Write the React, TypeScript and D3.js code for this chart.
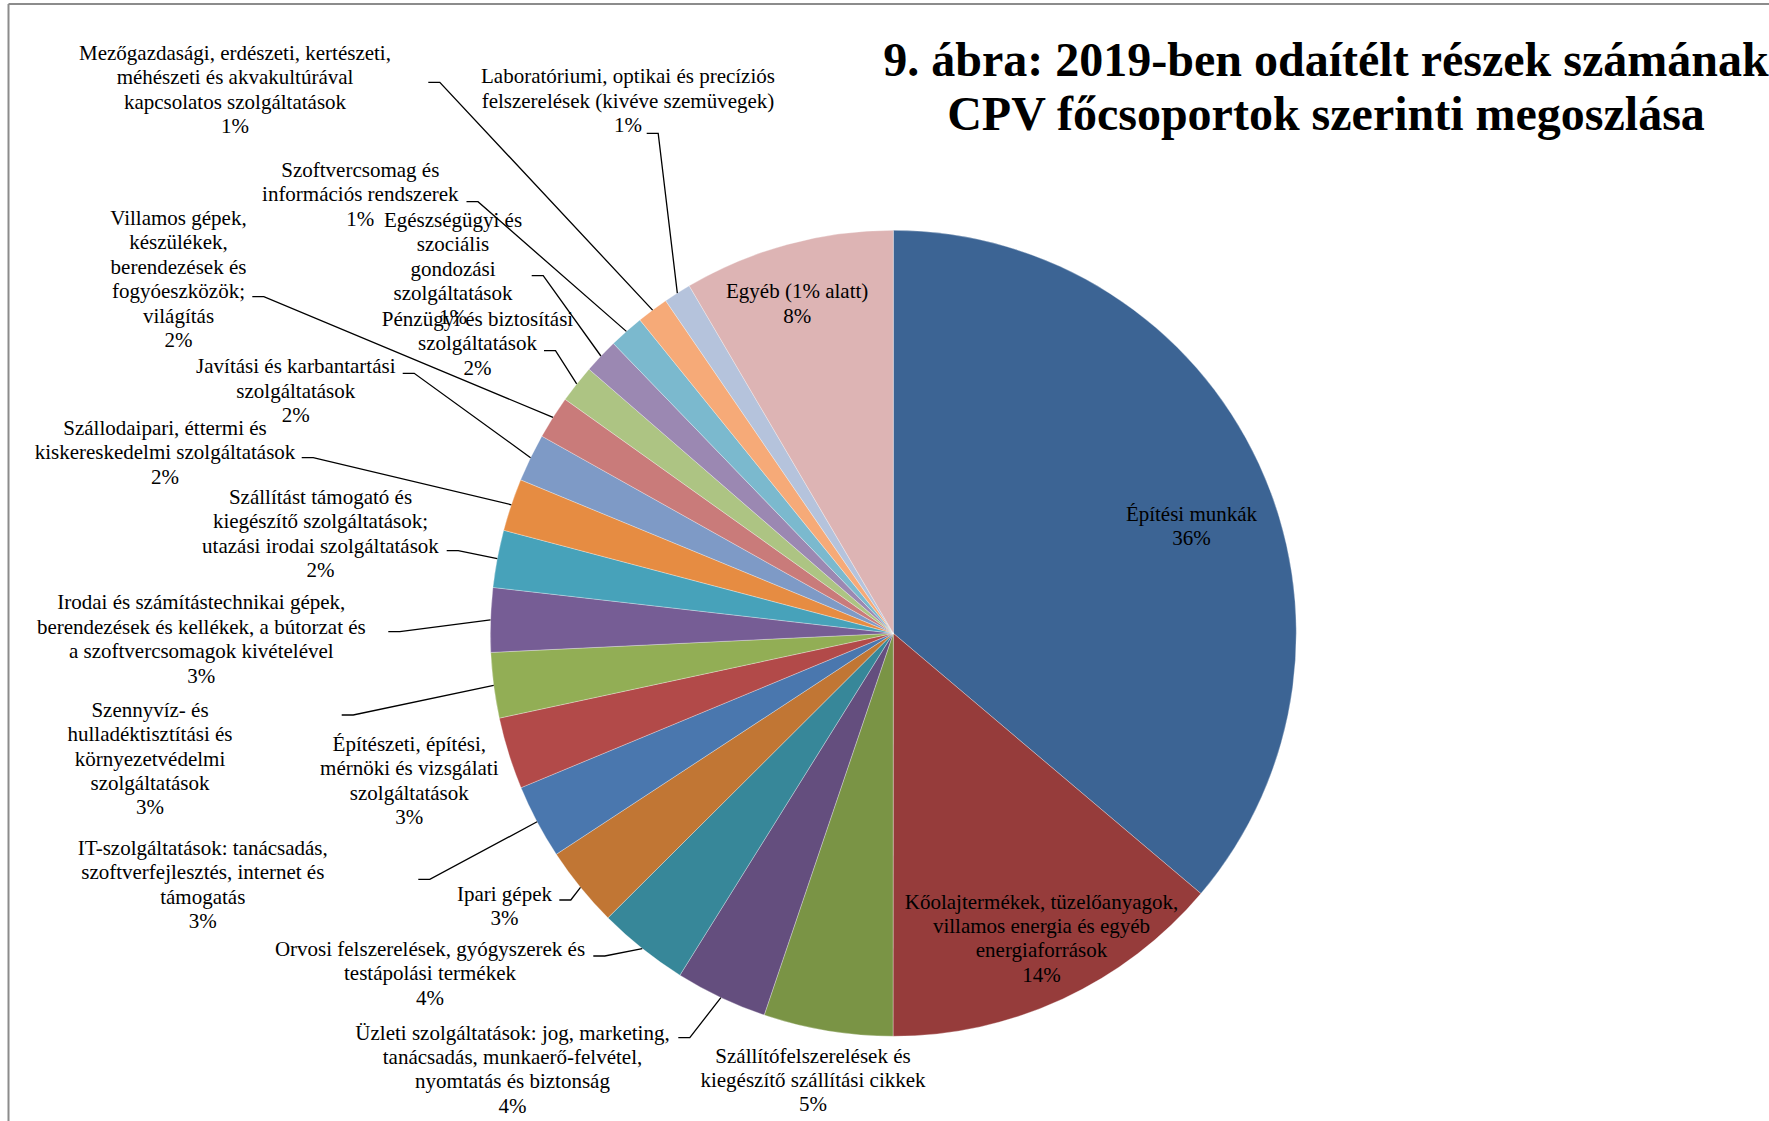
import React from "react";
import * as d3 from "d3";

// ---- data ----
const categories: string[] = [
  "Építési munkák",
  "Kőolajtermékek, tüzelőanyagok,\nvillamos energia és egyéb\nenergiaforrások",
  "Szállítófelszerelések és\nkiegészítő szállítási cikkek",
  "Üzleti szolgáltatások: jog, marketing,\ntanácsadás, munkaerő-felvétel,\nnyomtatás és biztonság",
  "Orvosi felszerelések, gyógyszerek és\ntestápolási termékek",
  "Ipari gépek",
  "IT-szolgáltatások: tanácsadás,\nszoftverfejlesztés, internet és\ntámogatás",
  "Építészeti, építési,\nmérnöki és vizsgálati\nszolgáltatások",
  "Szennyvíz- és\nhulladéktisztítási és\nkörnyezetvédelmi\nszolgáltatások",
  "Irodai és számítástechnikai gépek,\nberendezések és kellékek, a bútorzat és\na szoftvercsomagok kivételével",
  "Szállítást támogató és\nkiegészítő szolgáltatások;\nutazási irodai szolgáltatások",
  "Szállodaipari, éttermi és\nkiskereskedelmi szolgáltatások",
  "Javítási és karbantartási\nszolgáltatások",
  "Villamos gépek,\nkészülékek,\nberendezések és\nfogyóeszközök;\nvilágítás",
  "Pénzügyi és biztosítási\nszolgáltatások",
  "Egészségügyi és\nszociális\ngondozási\nszolgáltatások",
  "Szoftvercsomag és\ninformációs rendszerek",
  "Mezőgazdasági, erdészeti, kertészeti,\nméhészeti és akvakultúrával\nkapcsolatos szolgáltatások",
  "Laboratóriumi, optikai és precíziós\nfelszerelések (kivéve szemüvegek)",
  "Egyéb (1% alatt)",
];

const shares: number[] = [
  36.17, 13.83, 5.18, 3.69, 3.64, 3.24, 2.98, 2.88, 2.62, 2.57,
  2.3, 2.1, 1.92, 1.72, 1.52, 1.4, 1.4, 1.27, 1.1, 8.45,
];

const titleLines: string[] = [
  "9. ábra: 2019-ben odaítélt részek számának",
  "CPV főcsoportok szerinti megoszlása",
];

// ---- styles ----
const colors: string[] = [
  "#3c6494", "#963c3b", "#7a9445", "#644e7e", "#378799", "#c17634",
  "#4a77ae", "#b24a49", "#92ae55", "#765d95", "#47a2ba", "#e68c42",
  "#7e9ac6", "#c97b7a", "#adc483", "#9b88b2", "#7bb9ce", "#f6aa78",
  "#b5c3dc", "#ddb4b4",
];

// ---- layout of the data labels (label centre x, first baseline y, leader start) ----
type LabelPos = { x: number; y: number; lead?: [number, number] };
const labelLayout: LabelPos[] = [
  { x: 1191.5, y: 521 },
  { x: 1041.5, y: 908.5 },
  { x: 813, y: 1062.5 },
  { x: 512.5, y: 1039.5, lead: [678.3, 1037.7] },
  { x: 430, y: 956, lead: [593.3, 956] },
  { x: 504.5, y: 900.7, lead: [559.3, 900] },
  { x: 202.8, y: 855, lead: [418.3, 879.3] },
  { x: 409.3, y: 750.7 },
  { x: 150, y: 716.7, lead: [341.7, 715] },
  { x: 201.3, y: 609.3, lead: [388.3, 631.7] },
  { x: 320.5, y: 504, lead: [446.7, 550.7] },
  { x: 165, y: 435, lead: [301.7, 457.7] },
  { x: 295.8, y: 373.3, lead: [402.7, 373.3] },
  { x: 178.5, y: 225, lead: [252.3, 296.7] },
  { x: 477.5, y: 326, lead: [544, 350.7] },
  { x: 453, y: 226.7, lead: [531.7, 275.7] },
  { x: 360.3, y: 176.7, lead: [466.5, 201.7] },
  { x: 235, y: 60, lead: [428.3, 82.3] },
  { x: 628, y: 83.3, lead: [646.7, 133.3] },
  { x: 797.2, y: 298.3 },
];

const W = 1769;
const H = 1121;
const CX = 893.3;
const CY = 633.3;
const R = 403;
const FONT = "'Liberation Serif', 'Times New Roman', Times, serif";
const LABEL_SIZE = 21;
const LINE_H = 24.4;

export default function App() {
  const total = d3.sum(shares);
  const pie = d3
    .pie<number>()
    .sort(null)
    .value((d) => d)
    .startAngle(0)
    .endAngle(2 * Math.PI);
  const arcs = pie(shares);
  const arc = d3.arc<d3.PieArcDatum<number>>().innerRadius(0).outerRadius(R);
  const rim = d3.arc<d3.PieArcDatum<number>>().innerRadius(R).outerRadius(R);

  return (
    <svg
      width={W}
      height={H}
      viewBox={`0 0 ${W} ${H}`}
      style={{ position: "absolute", left: 0, top: 0, background: "#fff" }}
    >
      <rect x={0} y={0} width={W} height={H} fill="#fff" />
      {/* chart area frame (cropped) */}
      <line x1={8.5} y1={4} x2={W} y2={4} stroke="#8c8c8c" strokeWidth={2} />
      <line x1={8.5} y1={4} x2={8.5} y2={H} stroke="#8c8c8c" strokeWidth={2} />

      <g transform={`translate(${CX},${CY})`}>
        {arcs.map((a, i) => (
          <path
            key={i}
            d={arc(a) || ""}
            fill={colors[i]}
            stroke="#ffffff"
            strokeOpacity={0.5}
            strokeWidth={0.6}
          />
        ))}
      </g>

      {/* leader lines */}
      <g fill="none" stroke="#000" strokeWidth={1.3}>
        {arcs.map((a, i) => {
          const l = labelLayout[i];
          if (!l.lead) return null;
          const [px, py] = rim.centroid(a);
          const [sx, sy] = l.lead;
          return (
            <path
              key={i}
              d={`M${sx},${sy}H${sx + 11.5}L${CX + px},${CY + py}`}
            />
          );
        })}
      </g>

      {/* data labels */}
      <g fontFamily={FONT} fontSize={LABEL_SIZE} fill="#000" textAnchor="middle">
        {categories.map((c, i) => {
          const l = labelLayout[i];
          const lines = c.split("\n");
          lines.push(`${Math.round((shares[i] / total) * 100)}%`);
          return (
            <text key={i} x={l.x} y={l.y}>
              {lines.map((t, j) => (
                <tspan key={j} x={l.x} y={l.y + j * LINE_H}>
                  {t}
                </tspan>
              ))}
            </text>
          );
        })}
      </g>

      {/* title */}
      <g fontFamily={FONT} fontSize={48} fontWeight="bold" fill="#000" textAnchor="middle">
        {titleLines.map((t, i) => (
          <text key={i} x={1326} y={76 + i * 54}>
            {t}
          </text>
        ))}
      </g>
    </svg>
  );
}
